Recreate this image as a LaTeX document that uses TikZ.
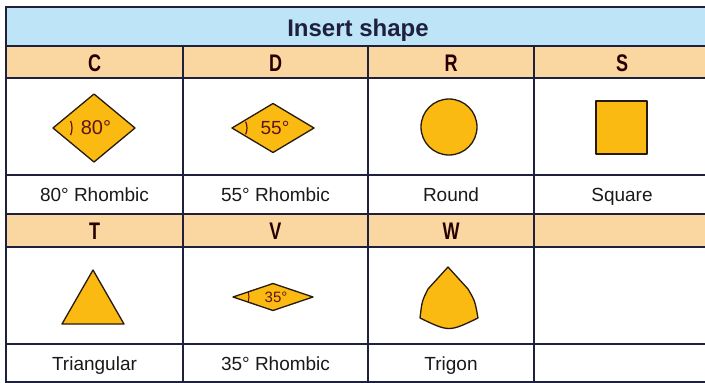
\documentclass[tikz,border=0pt]{standalone}
\usepackage{fontspec}
\setmainfont{Liberation Sans}
\usetikzlibrary{positioning}
\definecolor{headblue}{RGB}{190,228,248}
\definecolor{rowpeach}{RGB}{250,214,160}
\definecolor{insertgold}{RGB}{250,186,18}
\definecolor{gridnavy}{RGB}{30,32,60}
\definecolor{anglered}{RGB}{95,20,20}
\newcommand{\narrowbf}[1]{\scalebox{0.75}[1]{\bfseries #1}}

\begin{document}
\begin{tikzpicture} [x = 1pt, y = -1pt,
  title/.style = {font = \fontsize{24}{24}\selectfont\bfseries, text = gridnavy, anchor = base},
  letter/.style = {font = \fontsize{24}{24}\selectfont, text = black!85!red, anchor = base},
  caption/.style = {font = \fontsize{19}{19}\selectfont, text = black!90, anchor = base},
  insert/.style = {draw = black!80!brown, fill = insertgold, line width = 1.3pt, line join = round},
  angle/.style = {font = \fontsize{20}{20}\selectfont, text = anglered, inner sep = 0pt},
  grid/.style = {draw = gridnavy, line width = 1.6pt}]
\clip (0,0) rectangle (705,383);
\fill[headblue] (6,7) rectangle (712,46);
\fill[rowpeach] (6,46) rectangle (712,78);
\fill[rowpeach] (6,214) rectangle (712,247);
\draw[grid] (6,7) rectangle (712,382);
\foreach \y in {46,78,175,214,247,344} \draw[grid] (6,\y) -- (712,\y);
\foreach \x in {183,368,534} \draw[grid] (\x,46) -- (\x,382);

\node[title] (head) at (358,36) {Insert shape};
\node[letter] (C) at (94.5,71) {\narrowbf{C}};
\node[letter] (D) at (275.5,71) {\narrowbf{D}};
\node[letter] (R) at (451,71) {\narrowbf{R}};
\node[letter] (S) at (622,71) {\narrowbf{S}};
\node[letter] (T) at (94.5,239.5) {\narrowbf{T}};
\node[letter] (V) at (275.5,239.5) {\narrowbf{V}};
\node[letter] (W) at (451,239.5) {\narrowbf{W}};

\node[caption] (cap_C) at (94.5,201.5) {80° Rhombic};
\node[caption] (cap_D) at (275.5,201.5) {55° Rhombic};
\node[caption] (cap_R) at (451,201.5) {Round};
\node[caption] (cap_S) at (622,201.5) {Square};
\node[caption] (cap_T) at (94.5,370) {Triangular};
\node[caption] (cap_V) at (275.5,370) {35° Rhombic};
\node[caption] (cap_W) at (451,370) {Trigon};

% inserts
\draw[insert] (53,128) -- (94,94) -- (135,128) -- (94,162) -- cycle;
\draw[anglered, line width = 1.2pt] (53,128) ++(-22:19) arc[start angle = -22, end angle = 22, radius = 19];
\node[angle] (ang_C) at (96,128) {80°};

\draw[insert] (232,128) -- (273,103.5) -- (314,128) -- (273,152.5) -- cycle;
\draw[anglered, line width = 1.2pt] (232,128) ++(-25:15) arc[start angle = -25, end angle = 25, radius = 15];
\node[angle, font = \fontsize{19}{19}\selectfont] (ang_D) at (275,128) {55°};

\draw[insert] (449,127) circle[radius = 28];
\draw[insert] (596,101) rectangle (647,154);
\draw[insert] (93,270) -- (124,324) -- (62,324) -- cycle;

\draw[insert] (233,297) -- (273,283.5) -- (313,297) -- (273,310.5) -- cycle;
\draw[anglered, line width = 1pt] (233,297) ++(-18:16) arc[start angle = -18, end angle = 18, radius = 16];
\node[angle, font = \fontsize{15}{15}\selectfont] (ang_V) at (276,297) {35°};

\draw[insert] (448,267) -- (468,289)
  .. controls (475,301) .. (478,318)
  .. controls (449,332) .. (420,318)
  .. controls (422,301) .. (428,289) -- cycle;

\end{tikzpicture}
\end{document}
